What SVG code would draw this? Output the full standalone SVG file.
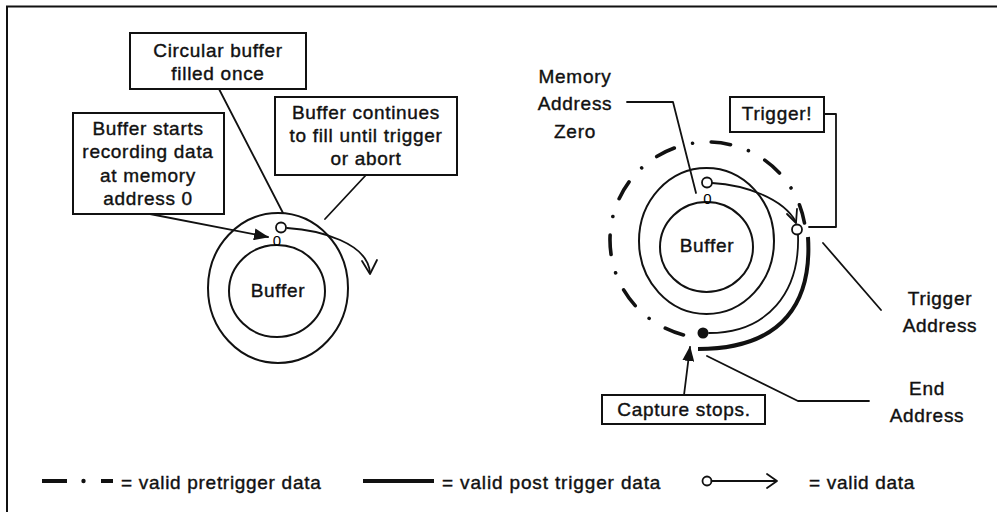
<svg xmlns="http://www.w3.org/2000/svg" width="997" height="512" viewBox="0 0 997 512">
<style>
  .t { font-family: "Liberation Sans", Arial, Helvetica, sans-serif; font-size: 19px; letter-spacing: 0.7px; fill: #111; stroke: #111; stroke-width: 0.4; text-anchor: middle; }
  .tl { text-anchor: start; }
  .z { font-size: 15px; letter-spacing: 0; stroke: none; fill: #000; }
  .box { fill: #fff; stroke: #111; stroke-width: 2; }
  .ln { fill: none; stroke: #111; stroke-width: 1.8; stroke-linecap: round; stroke-linejoin: round; }
  .ring { fill: none; stroke: #111; stroke-width: 2; }
  .thick { fill: none; stroke: #111; stroke-width: 4; stroke-linecap: butt; }
  .dd { fill: none; stroke: #111; stroke-width: 3.6; stroke-linecap: round; stroke-dasharray: 19.5 18.85 0.01 18.85; }
  .oc { fill: #fff; stroke: #111; stroke-width: 1.8; }
</style>
<defs>
  <marker id="fa" markerUnits="userSpaceOnUse" markerWidth="15" markerHeight="12" refX="14" refY="6" orient="auto">
    <path d="M0,0 L15,6 L0,12 Z" fill="#111"/>
  </marker>
</defs>
<rect width="997" height="512" fill="#fff"/>
<rect x="7" y="6.5" width="1000" height="520" fill="none" stroke="#111" stroke-width="2"/>

<g id="connectors">
  <line class="ln" x1="219" y1="89" x2="283" y2="213"/>
  <line class="ln" x1="366" y1="175" x2="325" y2="219"/>
  <line class="ln" x1="150" y1="214" x2="268" y2="237" marker-end="url(#fa)"/>
  <path class="ln" d="M287,228 C320,230 368,243 370,273"/>
  <path class="ln" d="M362,261 L370,274 L377,260"/>
  <path class="ln" d="M627,102 L673,102 L696,193"/>
  <path class="ln" d="M824,114 L836,114 L836,227 L809,227"/>
  <line class="ln" x1="823" y1="243" x2="881" y2="310"/>
  <path class="ln" d="M707,356 L798,401 L869,401"/>
  <line class="ln" x1="684" y1="395" x2="690" y2="347" marker-end="url(#fa)"/>
  <path class="ln" d="M712,183 C745,185 783,198 796,222"/>
  <path class="ln" d="M787,214 L796,223 L797,209"/>
  <path class="ln" d="M798,235 C800,292 768,333 709,333"/>
</g>

<g id="frame-left">
  <ellipse class="ring" cx="278" cy="288" rx="70" ry="75"/>
  <ellipse class="ring" cx="277" cy="291" rx="48" ry="46"/>
  <text class="t" x="278" y="297">Buffer</text>
  <circle class="oc" cx="281" cy="227.5" r="5"/>
  <text class="t z" x="277" y="245.5">0</text>
</g>

<g id="box-filled-once">
  <rect class="box" x="130" y="33" width="176" height="56"/>
  <text class="t" x="218" y="57">Circular buffer</text>
  <text class="t" x="218" y="80">filled once</text>
</g>

<g id="box-starts">
  <rect class="box" x="73" y="113" width="151" height="101"/>
  <text class="t" x="148" y="135">Buffer starts</text>
  <text class="t" x="148" y="158">recording data</text>
  <text class="t" x="148" y="182">at memory</text>
  <text class="t" x="148" y="205">address 0</text>
</g>

<g id="box-continues">
  <rect class="box" x="275" y="97" width="182" height="78"/>
  <text class="t" x="366" y="119">Buffer continues</text>
  <text class="t" x="366" y="142">to fill until trigger</text>
  <text class="t" x="366" y="165">or abort</text>
</g>

<g id="frame-right">
  <path class="dd" d="M683.5,334.9 A98,98 0 1 1 804.5,223"/>
  <path class="thick" d="M808,237 C812,300 785,349 698,349"/>
  <ellipse class="ring" cx="706.5" cy="241" rx="67.5" ry="73"/>
  <ellipse class="ring" cx="706.5" cy="247" rx="46.5" ry="45"/>
  <text class="t" x="707" y="252">Buffer</text>
  <circle class="oc" cx="707" cy="182.5" r="5"/>
  <text class="t z" x="707.5" y="204">0</text>
  <circle class="oc" cx="797" cy="229.5" r="5"/>
  <circle cx="703" cy="333" r="5.5" fill="#111"/>
</g>

<g id="label-memory-zero">
  <text class="t" x="575" y="83">Memory</text>
  <text class="t" x="575" y="110">Address</text>
  <text class="t" x="575" y="138">Zero</text>
</g>

<g id="box-trigger">
  <rect class="box" x="730" y="97" width="94" height="35"/>
  <text class="t" x="777" y="120">Trigger!</text>
</g>

<g id="label-trigger-address">
  <text class="t" x="940" y="305">Trigger</text>
  <text class="t" x="940" y="332">Address</text>
</g>

<g id="label-end-address">
  <text class="t" x="927" y="395">End</text>
  <text class="t" x="927" y="422">Address</text>
</g>

<g id="box-capture-stops">
  <rect class="box" x="602" y="395" width="163" height="29"/>
  <text class="t" x="684" y="416">Capture stops.</text>
</g>

<g id="legend">
  <line class="thick" x1="42" y1="481" x2="67" y2="481"/>
  <circle cx="83.5" cy="481" r="2.2" fill="#111"/>
  <line class="thick" x1="101" y1="481" x2="113" y2="481"/>
  <text class="t tl" x="121" y="489">= valid pretrigger data</text>
  <line class="thick" x1="363" y1="481" x2="434" y2="481"/>
  <text class="t tl" x="442" y="489" style="letter-spacing:0.85px">= valid post trigger data</text>
  <circle class="oc" cx="707" cy="481" r="4.5"/>
  <line class="ln" x1="711.5" y1="481" x2="776" y2="481"/>
  <path class="ln" d="M767,474 L777,481 L767,488"/>
  <text class="t tl" x="809" y="489">= valid data</text>
</g>
</svg>
